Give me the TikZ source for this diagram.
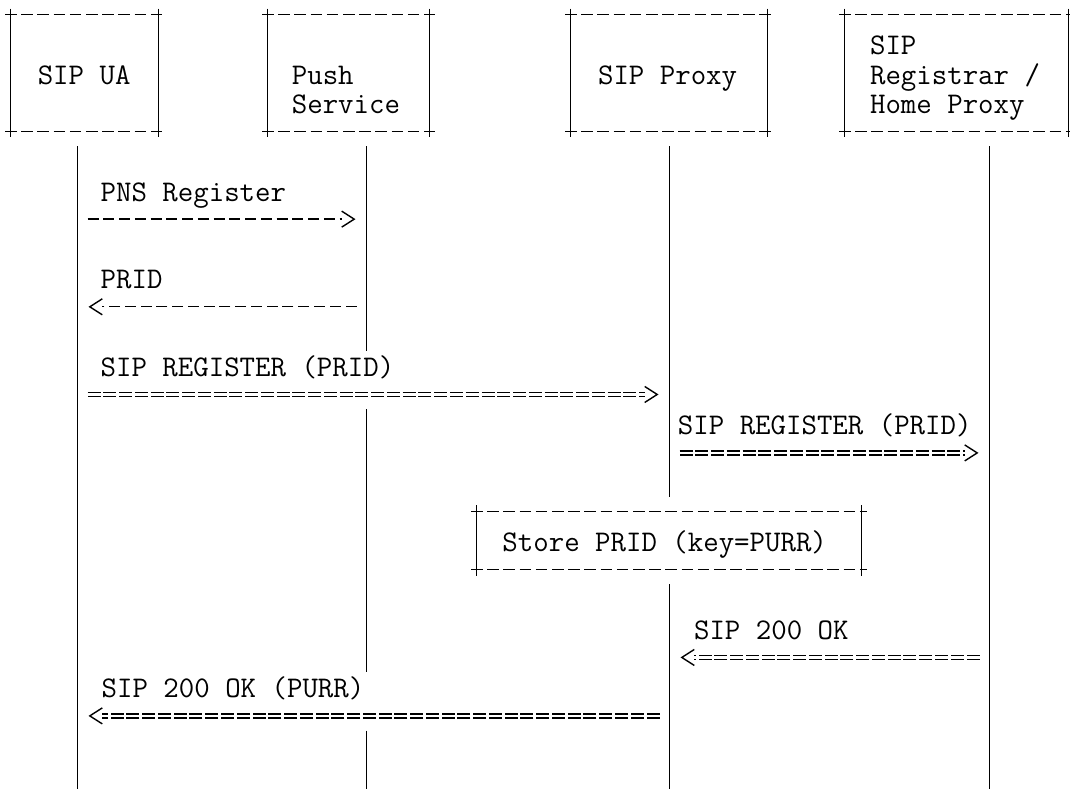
\documentclass[tikz,border=0pt]{standalone}
\usetikzlibrary{arrows.meta,positioning}

\begin{document}
\begin{tikzpicture}[x=1pt,y=-29.22pt,line width=1.3pt,
    actor/.style={minimum width=#1,minimum height=116.88pt,inner sep=0pt,outer sep=0pt},
    txt/.style={anchor=base west,inner sep=0pt,font=\fontsize{30}{36}\selectfont\ttfamily},
    hedge/.style={dash pattern=on 11.5pt off 4.7pt},
    msgline/.style={dash pattern=on 11pt off 4.76pt,shorten <=10pt,shorten >=24.5pt},
    eqline/.style={double,double distance=2.7pt,dash pattern=on 13pt off 2.76pt,shorten <=10pt,shorten >=24.5pt},
    head/.style={dash pattern=on 0pt off 2000pt,shorten <=10pt,shorten >=11pt,-{Straight Barb[length=12.5pt,width=16pt,line width=1.4pt]}}]
  \useasboundingbox (0,-0.5) rectangle (1070,26.5);

  \node[actor=148pt] (ua) at (84.5,2) {};
  \node[actor=162pt] (push) at (348.5,2) {};
  \node[actor=197pt] (proxy) at (669,2) {};
  \node[actor=224pt] (reg) at (956.5,2) {};
  \node[actor=385pt,minimum height=58.44pt] (store) at (669,18) {};

  \foreach \b in {ua,push,proxy,reg,store}{
    \draw[hedge] ([xshift=-5.5pt]\b.north west) -- ([xshift=5.5pt]\b.north east)
                 ([xshift=-5.5pt]\b.south west) -- ([xshift=5.5pt]\b.south east);
    \draw ([yshift=6pt]\b.north west) -- ([yshift=-6pt]\b.south west)
          ([yshift=6pt]\b.north east) -- ([yshift=-6pt]\b.south east);
  }

  \node[txt] (uat) at (37.1,2.38) {SIP UA};
  \node[txt] (pusht1) at (291.2,2.38) {Push};
  \node[txt] (pusht2) at (291.2,3.38) {Service};
  \node[txt] (proxyt) at (597.4,2.38) {SIP Proxy};
  \node[txt] (regt1) at (869.4,1.38) {SIP};
  \node[txt] (regt2) at (869.4,2.38) {Registrar /};
  \node[txt] (regt3) at (869.4,3.38) {Home Proxy};
  \node[txt] (storet) at (501.8,18.38) {Store PRID (key=PURR)};

  \node[txt] (m1) at (100,6.38) {PNS Register};
  \node[txt] (m2) at (100,9.38) {PRID};
  \node[txt] (m3) at (100,12.38) {SIP REGISTER (PRID)};
  \node[txt] (m4) at (677.3,14.38) {SIP REGISTER (PRID)};
  \node[txt] (m5) at (693.4,21.38) {SIP 200 OK};
  \node[txt] (m6) at (101,23.38) {SIP 200 OK (PURR)};

  \foreach \n/\x in {ua/77.5,push/366.5,proxy/669.5,reg/989.5}{
    \coordinate (\n-top) at (\x,4.5);
    \coordinate (\n-foot) at (\x,26.5);
    \foreach \r in {7,10,13,15,22,24} \coordinate (\n\r) at (\x,\r);
  }
  \coordinate (push-cut1) at (366.5,11.5);
  \coordinate (push-cut2) at (366.5,13.5);
  \coordinate (push-cut3) at (366.5,22.5);
  \coordinate (push-cut4) at (366.5,24.5);
  \coordinate (proxy-cut1) at (669.5,16.5);
  \coordinate (proxy-cut2) at (669.5,19.5);

  \draw (ua-top) -- (ua-foot);
  \draw (push-top) -- (push-cut1) (push-cut2) -- (push-cut3) (push-cut4) -- (push-foot);
  \draw (proxy-top) -- (proxy-cut1) (proxy-cut2) -- (proxy-foot);
  \draw (reg-top) -- (reg-foot);

  \foreach \s/\a/\b in {msgline/ua7/push7,msgline/push10/ua10,eqline/ua13/proxy13,
                        eqline/proxy15/reg15,eqline/reg22/proxy22,eqline/proxy24/ua24}{
    \draw[\s] (\a) -- (\b);
    \draw[head] (\a) -- (\b);
  }
\end{tikzpicture}
\end{document}
